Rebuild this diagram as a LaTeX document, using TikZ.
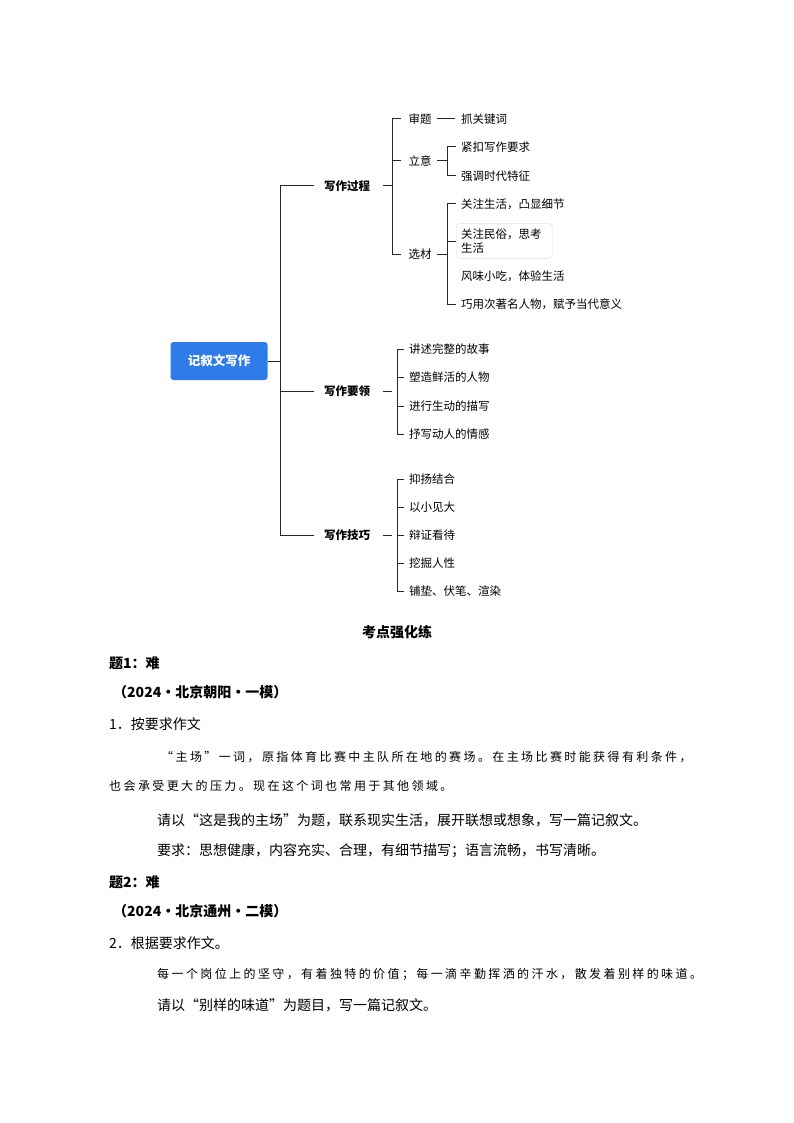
\documentclass[tikz,border=0pt]{standalone}
\usepackage{fontspec}
\setmainfont{Noto Sans CJK SC}
\newfontfamily\spaced[LetterSpace=20]{Noto Sans CJK SC}
\definecolor{rootblue}{HTML}{2F7BEA}
\usetikzlibrary{positioning}
\begin{document}
\begin{tikzpicture}[x=1pt, y=-1pt, every node/.style={font=\fontsize{11.5}{14}\selectfont, inner sep=1pt},
    leaf/.style={anchor=west},
    branch/.style={font=\fontsize{11.5}{14}\selectfont\bfseries},
    body/.style={anchor=west, font=\fontsize{14}{16}\selectfont},
    link/.style={line width=1pt, black!85}]
  \useasboundingbox[fill=white] (0,0) rectangle (794,1123);

  % Root and main branches
  \node[fill=rootblue, rounded corners=3pt, text=white, font=\fontsize{12.5}{14}\selectfont\bfseries,
        minimum width=97pt, minimum height=38pt] (root) at (219,361) {记叙文写作};
  \node[branch] (proc) at (347,186) {写作过程};
  \node[branch] (key) at (347,391) {写作要领};
  \node[branch] (tech) at (347,535) {写作技巧};
  \coordinate (trunk) at (280,361);
  \draw[link] (root.east) -- (trunk);
  \draw[link] (314,186) -| (280,535) -- (314,535);
  \draw[link] (280,391) -- (314,391);

  % Writing process
  \node (shen) at (420,119) {审题};
  \node (li) at (420,161) {立意};
  \node (xuan) at (420,254) {选材};
  \draw[link] (383,186) -- (392,186);
  \draw[link] (401,119) -| (392,254) -- (401,254);
  \draw[link] (392,161) -- (401,161);
  \node[leaf] (zhua) at (460,119) {抓关键词};
  \draw[link] (shen.east) ++(4,0) -- (455,119);
  \node[leaf] (jin) at (460,147) {紧扣写作要求};
  \node[leaf] (qiang) at (460,176) {强调时代特征};
  \draw[link] (437,161) -- (447,161);
  \draw[link] (456,147) -| (447,176) -- (456,176);
  \node[leaf] (s1) at (460,204) {关注生活，凸显细节};
  \node[leaf, draw=gray!25, rounded corners=3pt, align=left, inner sep=5pt, text width=86pt] (s2) at (456,241) {关注民俗，思考\\生活};
  \node[leaf] (s3) at (460,276) {风味小吃，体验生活};
  \node[leaf] (s4) at (460,304) {巧用次著名人物，赋予当代意义};
  \draw[link] (437,254) -- (447,254);
  \draw[link] (456,204) -| (447,304) -- (456,304);
  \draw[link] (447,241) -- (456,241);

  % Key points
  \draw[link] (383,391) -- (392,391);
  \draw[link] (404,349) -| (397,434) -- (404,434);
  \foreach \y/\t in {349/讲述完整的故事, 377/塑造鲜活的人物, 406/进行生动的描写, 434/抒写动人的情感}
  {
    \node[leaf] at (408,\y) {\t};
    \draw[link] (397,\y) -- (404,\y);
  }

  % Techniques
  \draw[link] (383,535) -- (392,535);
  \draw[link] (404,479) -| (397,591) -- (404,591);
  \foreach \y/\t in {479/抑扬结合, 507/以小见大, 535/辩证看待, 563/挖掘人性, 591/铺垫、伏笔、渲染}
  {
    \node[leaf] at (408,\y) {\t};
    \draw[link] (397,\y) -- (404,\y);
  }

  % Exercises
  \node[font=\fontsize{14}{16}\selectfont\bfseries] (title) at (397,632) {考点强化练};
  \node[body, font=\fontsize{14}{16}\selectfont\bfseries] (q1) at (108,663) {题1：难};
  \node[body, font=\fontsize{14}{16}\selectfont\bfseries] (src1) at (112,692) {（2024·北京朝阳·一模）};
  \node[body] (n1) at (108,724) {1．按要求作文};
  \node[body, font=\fontsize{12}{14}\selectfont\spaced] (p1) at (160,757) {“主场”一词，原指体育比赛中主队所在地的赛场。在主场比赛时能获得有利条件，};
  \node[body, font=\fontsize{12}{14}\selectfont\spaced] (p2) at (108,786) {也会承受更大的压力。现在这个词也常用于其他领域。};
  \node[body] (r1) at (156,820) {请以“这是我的主场”为题，联系现实生活，展开联想或想象，写一篇记叙文。};
  \node[body] (r2) at (156,851) {要求：思想健康，内容充实、合理，有细节描写；语言流畅，书写清晰。};
  \node[body, font=\fontsize{14}{16}\selectfont\bfseries] (q2) at (108,882) {题2：难};
  \node[body, font=\fontsize{14}{16}\selectfont\bfseries] (src2) at (112,911) {（2024·北京通州·二模）};
  \node[body] (n2) at (108,943) {2．根据要求作文。};
  \node[body, font=\fontsize{12}{14}\selectfont\spaced] (p3) at (156,974) {每一个岗位上的坚守，有着独特的价值；每一滴辛勤挥洒的汗水，散发着别样的味道。};
  \node[body] (r3) at (156,1005) {请以“别样的味道”为题目，写一篇记叙文。};
\end{tikzpicture}
\end{document}
